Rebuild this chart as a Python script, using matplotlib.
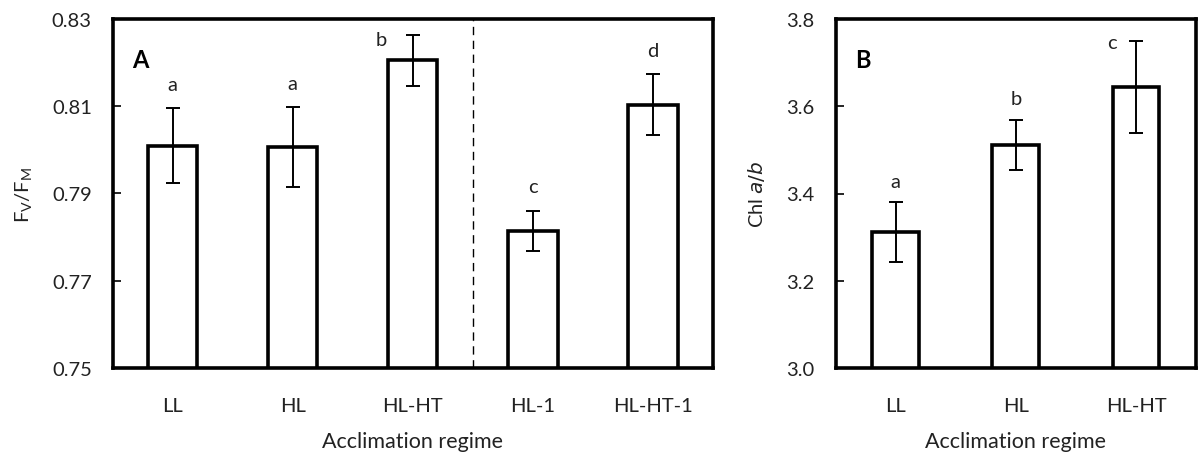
import matplotlib
matplotlib.use("Agg")
import matplotlib.pyplot as plt

plt.rcParams['font.family'] = ['Lato', 'DejaVu Sans']

# Panel A data
cats_a = ["LL", "HL", "HL-HT", "HL-1", "HL-HT-1"]
fvfm = [0.8010, 0.8007, 0.8205, 0.7815, 0.8104]
fvfm_err = [0.0085, 0.0091, 0.0058, 0.0046, 0.0070]
letters_a = ["a", "a", "b", "c", "d"]

# Panel B data
cats_b = ["LL", "HL", "HL-HT"]
chl_ab = [3.311, 3.511, 3.644]
chl_err = [0.069, 0.058, 0.106]
letters_b = ["a", "b", "c"]

W, H = 1198, 456
fig = plt.figure(figsize=(W / 100, H / 100), dpi=100)

axA = fig.add_axes([112.7 / W, 1 - 369 / H, (713 - 112.7) / W, (369 - 20) / H])
axB = fig.add_axes([835.7 / W, 1 - 369 / H, (1196 - 835.7) / W, (369 - 20) / H])

fs = 14.5
txt_color = '#222222'


def style(ax):
    for s in ax.spines.values():
        s.set_linewidth(2.6)
    ax.tick_params(axis='y', direction='in', length=6, width=1.2, labelsize=fs, pad=15, labelcolor=txt_color)
    ax.tick_params(axis='x', length=0, labelsize=fs, pad=21, labelcolor=txt_color)


# Panel A
xa = list(range(len(cats_a)))
axA.bar(xa, fvfm, width=0.41, bottom=0, color='white', edgecolor='black', linewidth=2.6, zorder=2)
axA.errorbar(xa, fvfm, yerr=fvfm_err, fmt='none', ecolor='black', elinewidth=1.4, capsize=5, capthick=1.4, zorder=3)
axA.set_xlim(-0.5, 4.5)
axA.set_ylim(0.75, 0.83)
axA.set_yticks([0.75, 0.77, 0.79, 0.81, 0.83])
axA.set_yticklabels(["0.75", "0.77", "0.79", "0.81", "0.83"])
axA.set_xticks(xa)
axA.set_xticklabels(cats_a)
axA.axvline(2.5, color='black', linestyle=(0, (6, 4)), linewidth=1.0, zorder=1)
style(axA)
axA.set_xlabel("Acclimation regime", fontsize=15.5, labelpad=12, color=txt_color)
axA.set_ylabel(r"F$_\mathregular{V}$/F$_\mathregular{M}$", fontsize=14.5, labelpad=12, color=txt_color)
axA.text(0.032, 0.885, "A", transform=axA.transAxes, fontsize=17, fontweight='bold', va='center', ha='left')
for i, (v, e, l) in enumerate(zip(fvfm, fvfm_err, letters_a)):
    if i == 2:
        axA.text(i - 0.26, v + e - 0.0010, l, ha='center', va='center', fontsize=fs, color=txt_color)
    else:
        axA.text(i, v + e + 0.0054, l, ha='center', va='center', fontsize=fs, color=txt_color)

# Panel B
xb = list(range(len(cats_b)))
axB.bar(xb, chl_ab, width=0.39, bottom=0, color='white', edgecolor='black', linewidth=2.6, zorder=2)
axB.errorbar(xb, chl_ab, yerr=chl_err, fmt='none', ecolor='black', elinewidth=1.4, capsize=5, capthick=1.4, zorder=3)
axB.set_xlim(-0.5, 2.5)
axB.set_ylim(3.0, 3.8)
axB.set_yticks([3.0, 3.2, 3.4, 3.6, 3.8])
axB.set_yticklabels(["3.0", "3.2", "3.4", "3.6", "3.8"])
axB.set_xticks(xb)
axB.set_xticklabels(cats_b)
style(axB)
axB.set_xlabel("Acclimation regime", fontsize=15.5, labelpad=12, color=txt_color)
axB.set_ylabel(r"Chl $\it{a/b}$", fontsize=14.5, labelpad=14, color=txt_color)
axB.text(0.055, 0.885, "B", transform=axB.transAxes, fontsize=17, fontweight='bold', va='center', ha='left')
for i, (v, e, l) in enumerate(zip(chl_ab, chl_err, letters_b)):
    if i == 2:
        axB.text(i - 0.2, v + e - 0.005, l, ha='center', va='center', fontsize=fs, color=txt_color)
    else:
        axB.text(i, v + e + 0.048, l, ha='center', va='center', fontsize=fs, color=txt_color)

fig.savefig("out.png", dpi=100)
